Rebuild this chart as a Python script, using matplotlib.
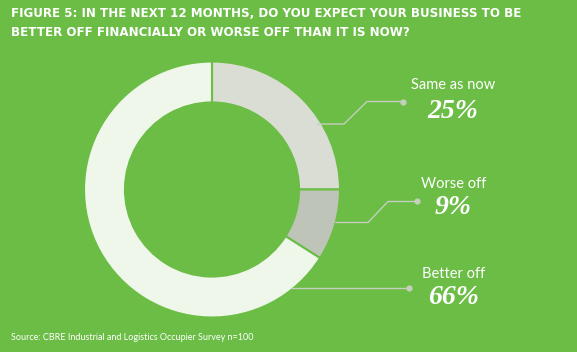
import numpy as np
import matplotlib.pyplot as plt

# ------------
# Data
# ------------
labels = ["Same as now", "Worse off", "Better off"]
shares = [25, 9, 66]
seg_colors = ["#d9ddd3", "#bfc4b9", "#eff6ea"]

title = ("FIGURE 5: IN THE NEXT 12 MONTHS, DO YOU EXPECT YOUR BUSINESS TO BE\n"
         "BETTER OFF FINANCIALLY OR WORSE OFF THAN IT IS NOW?")
source = "Source: CBRE Industrial and Logistics Occupier Survey n=100"

BG = "#6bbd45"
LINE = "#c5cfbd"
W, H = 577, 352

fig = plt.figure(figsize=(W / 100, H / 100), dpi=100)
fig.patch.set_facecolor(BG)


def px(x, y):
    # pixel position (from top-left) -> figure fraction
    return x / W, 1 - y / H


# ---------------
# Donut
# ---------------
cx, cy, r = 212, 189.5, 128
half = 150
ax = fig.add_axes([(cx - half) / W, 1 - (cy + half) / H, 2 * half / W, 2 * half / H])
ax.set_facecolor(BG)
lim = half / r
ax.pie(shares, colors=seg_colors, startangle=90, counterclock=False, radius=1,
       wedgeprops=dict(width=0.32, edgecolor=BG, linewidth=1.5))
ax.set_xlim(-lim, lim)
ax.set_ylim(-lim, lim)
ax.set_aspect("equal")
ax.axis("off")

# ---------------
# Leader lines and labels
# ---------------
leaders = [
    [(318, 124), (344, 124), (367, 101.5), (403, 101.5)],
    [(336, 222.5), (368, 222.5), (388, 201.5), (416.5, 201.5)],
    [(292, 288), (409, 288)],
]
label_pos = [(453, 85), (454, 184), (454, 274)]
pct_pos = [(453, 111), (453, 208), (453, 298)]

for pts, name, share, lp, pp in zip(leaders, labels, shares, label_pos, pct_pos):
    xs, ys = zip(*[px(x, y) for x, y in pts])
    fig.add_artist(plt.Line2D(xs, ys, color=LINE, lw=1, transform=fig.transFigure))
    fig.add_artist(plt.Line2D([xs[-1]], [ys[-1]], color=LINE, marker="o", ms=3.5,
                              transform=fig.transFigure))
    fig.text(*px(*lp), name, color="white", fontsize=10.5, family="Lato",
             ha="center", va="center")
    fig.text(*px(*pp), f"{share}%", color="white", fontsize=20, family="Liberation Serif",
             weight="bold", style="italic", ha="center", va="center")

# ---------------
# Title and source
# ---------------
fig.text(*px(11, 23), title, color="white", fontsize=8.6, weight="bold",
         family="DejaVu Sans", ha="left", va="center", linespacing=1.6)
fig.text(*px(11, 337), source, color="white", fontsize=6.5, family="Lato",
         ha="left", va="center")

fig.savefig("out.png", dpi=100, facecolor=BG)
